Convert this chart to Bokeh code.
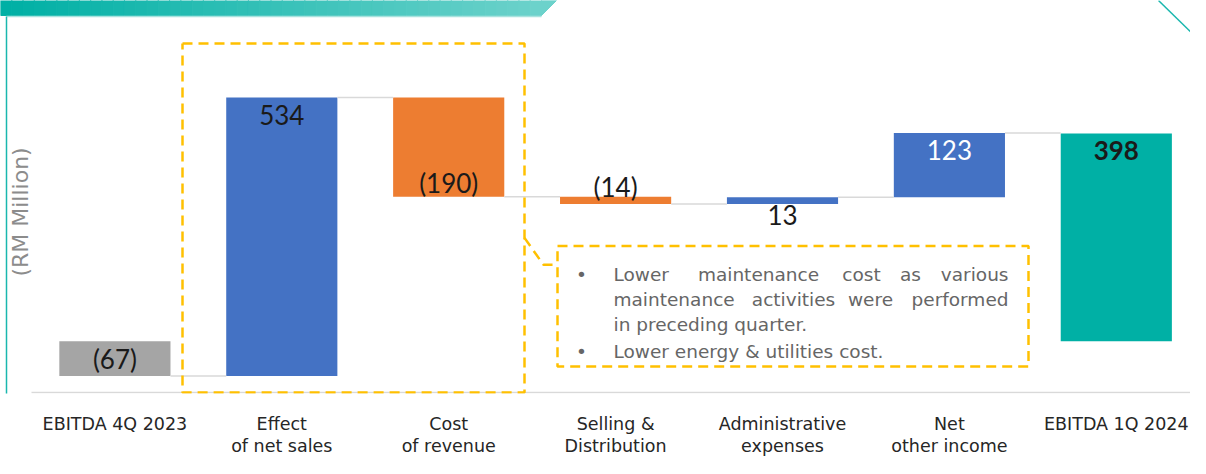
import math
import numpy as np
from bokeh.plotting import figure
from bokeh.models import Range1d, FixedTicker, Label, ColumnDataSource
from bokeh.core.properties import value
from bokeh.embed import file_html
from bokeh.resources import INLINE

# ---------------- data ----------------
categories = ["EBITDA 4Q 2023", "Effect\nof net sales", "Cost\nof revenue",
              "Selling &\nDistribution", "Administrative\nexpenses",
              "Net\nother income", "EBITDA 1Q 2024"]
changes = [-67, 534, -190, -14, 13, 123, 398]
value_labels = ["(67)", "534", "(190)", "(14)", "13", "123", "398"]
kinds = ["total", "delta", "delta", "delta", "delta", "delta", "total"]

note_lines = [
    ["Lower", "maintenance", "cost", "as", "various"],
    ["maintenance", "activities", "were", "performed"],
    ["in preceding quarter."],
    ["Lower energy & utilities cost."],
]
y_title = "(RM Million)"

# ---------------- layout helpers (screen px -> data) ----------------
W, H = 1190, 458
FT, FB = 0, 394                             # frame top/bottom on screen
CX0 = 114.4                                 # screen x of first category
PXX = 166.9                                 # px per category
ZERO_SY = 341.5                             # screen y of value 0
PXY = 0.523                                 # px per unit (y)


def X(sx):
    return (sx - CX0) / PXX


def Y(sy):
    return (ZERO_SY - sy) / PXY


p = figure(width=W, height=H, x_range=Range1d(X(0), X(W)),
           y_range=Range1d(Y(FB), Y(FT)), output_backend="svg",
           toolbar_location=None, y_axis_location=None,
           min_border_left=0, min_border_right=0, min_border_top=0,
           min_border_bottom=H - (FB - FT), outline_line_color=None,
           background_fill_color="white", border_fill_color="white")
p.xgrid.visible = False
p.ygrid.visible = False

# ---------------- header decoration ----------------
N = 48
edges = np.linspace(0, 541, N + 1)
c0 = np.array([0, 176, 165])
c1 = np.array([108, 210, 203])
cols = []
for k in range(N):
    t = k / (N - 1)
    c = (c0 + (c1 - c0) * t).astype(int)
    cols.append("#%02x%02x%02x" % tuple(c))
p.quad(left=[X(e) for e in edges[:-1]], right=[X(e) for e in edges[1:]],
       top=Y(-2), bottom=Y(15), fill_color=cols, line_color=cols, line_width=1)
p.patch([X(541), X(556), X(541)], [Y(0), Y(0), Y(15)],
        fill_color=cols[-1], line_color=cols[-1], line_width=1)
p.line([X(6), X(541)], [Y(16), Y(16)], line_color="#a8e3de", line_width=1.5)
p.line([X(6), X(6)], [Y(16), Y(FB + 2)], line_color="#1ab7ae", line_width=1.5)
p.line([X(1158), X(1210)], [Y(0), Y(51)], line_color="#1ab7ae", line_width=1.5)

# baseline (category axis line)
p.line([X(31), X(W + 5)], [Y(393), Y(393)], line_color="#d9d9d9", line_width=1.5)

# ---------------- waterfall ----------------
bottoms, tops, levels, colors = [], [], [], []
running = 0
for v, k in zip(changes, kinds):
    if k == "total":
        b, t = 0, v
        running = v
        colors.append("#a5a5a5" if v < 0 else "#00b0a5")
    else:
        b, t = running, running + v
        running += v
        colors.append("#4472c4" if v > 0 else "#ed7d31")
    bottoms.append(min(b, t))
    tops.append(max(b, t))
    levels.append(running)

xs = list(range(len(categories)))
BW = 0.666
p.vbar(x=xs, bottom=bottoms, top=tops, width=BW, fill_color=colors,
       line_color=None)

# connectors
for i in range(len(categories) - 1):
    p.line([i + BW / 2, i + 1 - BW / 2], [levels[i], levels[i]],
           line_color="#d9d9d9", line_width=1.5)

# value labels
ly, loff, lcol, lsty = [], [], [], []
for i, (v, k) in enumerate(zip(changes, kinds)):
    small = abs(v) * PXY < 20
    if i == 0:
        ly.append((bottoms[i] + tops[i]) / 2); loff.append(0)
    elif k == "total":
        ly.append(tops[i]); loff.append(17)
    elif small and v < 0:
        ly.append(tops[i]); loff.append(-10)
    elif small and v > 0:
        ly.append(bottoms[i]); loff.append(11)
    elif v > 0:
        ly.append(tops[i]); loff.append(17)
    else:
        ly.append(bottoms[i]); loff.append(-13.5)
    lcol.append("white" if (k == "delta" and v > 0 and i == 5) else "#1a1a1a")
    lsty.append("bold" if (k == "total" and i > 0) else "normal")
lsrc = ColumnDataSource(dict(x=xs, y=ly, t=value_labels, off=loff, c=lcol, s=lsty))
p.text(x="x", y="y", text="t", y_offset="off", text_color="c",
       text_font_style="s", source=lsrc, text_align="center",
       text_baseline="middle", text_font=value("Lato"), text_font_size="26px")

# ---------------- dashed call-out boxes ----------------
DASH = dict(line_color="#ffc000", line_width=2.5, line_dash="10 6")
p.line([X(182), X(524), X(524), X(182), X(182)],
       [Y(43), Y(43), Y(393), Y(393), Y(43)], **DASH)
p.line([X(557), X(1028), X(1028), X(557), X(557)],
       [Y(246), Y(246), Y(367), Y(367), Y(246)], **DASH)
p.line([X(524), X(543), X(557)], [Y(238), Y(265), Y(265)], **DASH)

# note text (justified lines)
NOTE = dict(text_font=value("DejaVu Sans"), text_font_size="18.5px",
            text_color="#666666", text_baseline="alphabetic")
base = [275, 300, 325, 352]
mid_centers = [[758, 861, 910], [793, 870]]
for li, words in enumerate(note_lines):
    by = Y(base[li])
    p.text(x=[X(613)], y=[by], text=[words[0]], text_align="left", **NOTE)
    if len(words) > 1:
        p.text(x=[X(1008)], y=[by], text=[words[-1]], text_align="right", **NOTE)
        mids = words[1:-1]
        p.text(x=[X(c) for c in mid_centers[li]], y=[by] * len(mids),
               text=mids, text_align="center", **NOTE)
for li in (0, 3):
    p.text(x=[X(581)], y=[Y(base[li])], text=["\u2022"], text_align="center", **NOTE)

# ---------------- axes ----------------
ax = p.xaxis[0]
ax.ticker = FixedTicker(ticks=xs)
ax.major_label_overrides = {i: c for i, c in enumerate(categories)}
ax.axis_line_color = None
ax.major_tick_line_color = None
ax.minor_tick_line_color = None
ax.major_label_standoff = 14
ax.major_label_text_font = "DejaVu Sans"
ax.major_label_text_font_size = "17.5px"
ax.major_label_text_color = "#262626"
ax.major_label_text_line_height = 1.1

p.add_layout(Label(x=X(20), y=Y(212), text=y_title, angle=math.pi / 2,
                   text_align="center", text_baseline="middle",
                   text_font="DejaVu Sans", text_font_size="22px",
                   text_color="#8c8c8c"))

open("out.html", "w").write(file_html(p, INLINE))
